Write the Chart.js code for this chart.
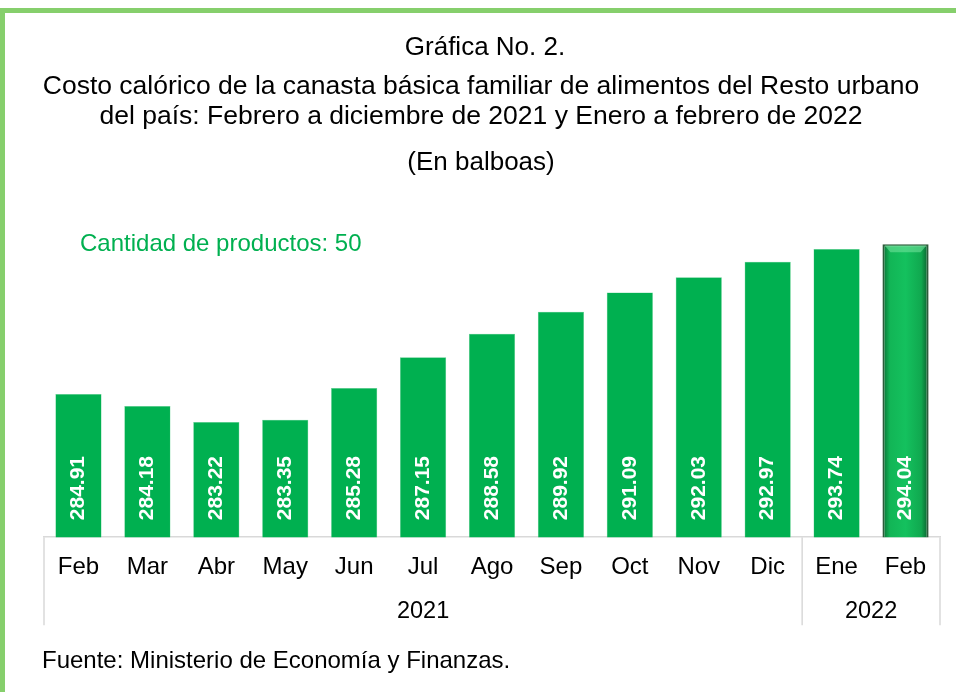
<!DOCTYPE html>
<html>
<head>
<meta charset="utf-8">
<script src="https://cdn.jsdelivr.net/npm/chart.js@4"></script>
<style>
  body { margin: 0; background: #fff; }
  #wrap { position: relative; width: 956px; height: 692px; overflow: hidden; }
  #frame { position: absolute; left: 0; top: 8px; width: 980px; height: 720px;
           border-top: 5px solid #86cf6c; border-left: 5px solid #86cf6c; box-sizing: border-box; }
  canvas { position: absolute; left: 0; top: 0; }
</style>
</head>
<body>
<div id="wrap">
  <div id="frame"></div>
  <canvas id="costChart" width="956" height="692"></canvas>
</div>
<script>
const months = ['Feb', 'Mar', 'Abr', 'May', 'Jun', 'Jul', 'Ago', 'Sep', 'Oct', 'Nov', 'Dic', 'Ene', 'Feb'];
const years = ['2021', '2021', '2021', '2021', '2021', '2021', '2021', '2021', '2021', '2021', '2021', '2022', '2022'];
const costs = [284.91, 284.18, 283.22, 283.35, 285.28, 287.15, 288.58, 289.92, 291.09, 292.03, 292.97, 293.74, 294.04];

const titleLines = [
  'Gráfica No. 2.',
  'Costo calórico de la canasta básica familiar de alimentos del Resto urbano',
  'del país: Febrero a diciembre de 2021 y Enero a febrero de 2022'
];

const FONT = '"Liberation Sans", Arial, sans-serif';
const BAR_PCT = 0.67;

// titles, value labels, year row and separators
const decorations = {
  id: 'decorations',
  afterDraw(chart) {
    const ctx = chart.ctx;
    const x = chart.scales.x;
    const area = chart.chartArea;
    ctx.save();
    ctx.fillStyle = '#000';
    ctx.textAlign = 'center';
    ctx.textBaseline = 'middle';
    ctx.font = '26.5px ' + FONT;
    ctx.fillText(titleLines[1], 481, 87);
    ctx.fillText(titleLines[2], 481, 117);
    ctx.font = '26px ' + FONT;
    ctx.fillText(titleLines[0], 485, 48);
    ctx.fillText('(En balboas)', 481, 163);

    ctx.textAlign = 'left';
    ctx.fillStyle = '#00b050';
    ctx.font = '24px ' + FONT;
    ctx.fillText('Cantidad de productos: 50', 80, 244);

    ctx.fillStyle = '#000';
    ctx.font = '24px ' + FONT;
    ctx.fillText('Fuente: Ministerio de Economía y Finanzas.', 42, 661);

    // value labels inside the bars
    const meta = chart.getDatasetMeta(0);
    ctx.font = 'bold 21px ' + FONT;
    ctx.fillStyle = '#fff';
    meta.data.forEach((bar, i) => {
      ctx.save();
      ctx.translate(bar.x, area.bottom - 17);
      ctx.rotate(-Math.PI / 2);
      ctx.textAlign = 'left';
      ctx.textBaseline = 'middle';
      ctx.fillText(costs[i].toFixed(2), 0, 0);
      ctx.restore();
    });

    // year groups
    const step = x.getPixelForValue(1) - x.getPixelForValue(0);
    const groups = [];
    years.forEach((y, i) => {
      const g = groups[groups.length - 1];
      if (g && g.year === y) g.end = i; else groups.push({ year: y, start: i, end: i });
    });
    ctx.strokeStyle = '#d9d9d9';
    ctx.lineWidth = 1.5;
    ctx.fillStyle = '#000';
    ctx.font = '23.5px ' + FONT;
    ctx.textAlign = 'center';
    const lineBottom = area.bottom + 88;
    groups.forEach((g) => {
      const left = x.getPixelForValue(g.start) - step / 2;
      ctx.beginPath();
      ctx.moveTo(left, area.bottom);
      ctx.lineTo(left, lineBottom);
      ctx.stroke();
      const mid = (x.getPixelForValue(g.start) + x.getPixelForValue(g.end)) / 2;
      ctx.fillText(g.year, mid, area.bottom + 74);
    });
    const right = x.getPixelForValue(years.length - 1) + step / 2;
    ctx.beginPath();
    ctx.moveTo(right, area.bottom);
    ctx.lineTo(right, lineBottom);
    ctx.stroke();

    // bevel highlight on the last bar
    const last = meta.data[meta.data.length - 1];
    const hw = last.width / 2;
    ctx.fillStyle = 'rgba(120, 230, 160, 0.55)';
    ctx.beginPath();
    ctx.moveTo(last.x - hw + 2, last.y + 1);
    ctx.lineTo(last.x + hw - 2, last.y + 1);
    ctx.lineTo(last.x + hw - 8, last.y + 8);
    ctx.lineTo(last.x - hw + 8, last.y + 8);
    ctx.closePath();
    ctx.fill();
    ctx.restore();
  }
};

function lastBarFill(c) {
  if (c.dataIndex !== costs.length - 1) return '#00b050';
  const x = c.chart.scales.x;
  if (!x) return '#12b556';
  const cx = x.getPixelForValue(c.dataIndex);
  const step = x.getPixelForValue(1) - x.getPixelForValue(0);
  if (!Number.isFinite(cx) || !Number.isFinite(step) || step <= 0) return '#12b556';
  const w = step * BAR_PCT;
  const g = c.chart.ctx.createLinearGradient(cx - w / 2, 0, cx + w / 2, 0);
  g.addColorStop(0, '#0b6a33');
  g.addColorStop(0.16, '#12b556');
  g.addColorStop(0.5, '#14c15e');
  g.addColorStop(0.84, '#10a84f');
  g.addColorStop(1, '#0a5a2c');
  return g;
}

const ctx = document.getElementById('costChart').getContext('2d');
new Chart(ctx, {
  type: 'bar',
  data: {
    labels: months,
    datasets: [{
      data: costs,
      backgroundColor: lastBarFill,
      borderColor: (c) => c.dataIndex === costs.length - 1 ? '#2d5a3a' : '#5fd08f',
      borderWidth: (c) => c.dataIndex === costs.length - 1 ? 2 : 0.5,
      borderSkipped: 'bottom',
      barPercentage: BAR_PCT,
      categoryPercentage: 1
    }]
  },
  options: {
    responsive: false,
    animation: false,
    layout: { padding: { left: 44, right: 16, top: 230, bottom: 94 } },
    plugins: { legend: { display: false }, tooltip: { enabled: false } },
    scales: {
      x: {
        grid: { display: false, drawTicks: false },
        border: { display: true, color: '#d9d9d9', width: 1.5 },
        ticks: { color: '#000', font: { size: 24, family: FONT }, padding: 16, maxRotation: 0, autoSkip: false }
      },
      y: {
        display: false,
        min: 276.2,
        max: 294.9
      }
    }
  },
  plugins: [decorations]
});
</script>
</body>
</html>
